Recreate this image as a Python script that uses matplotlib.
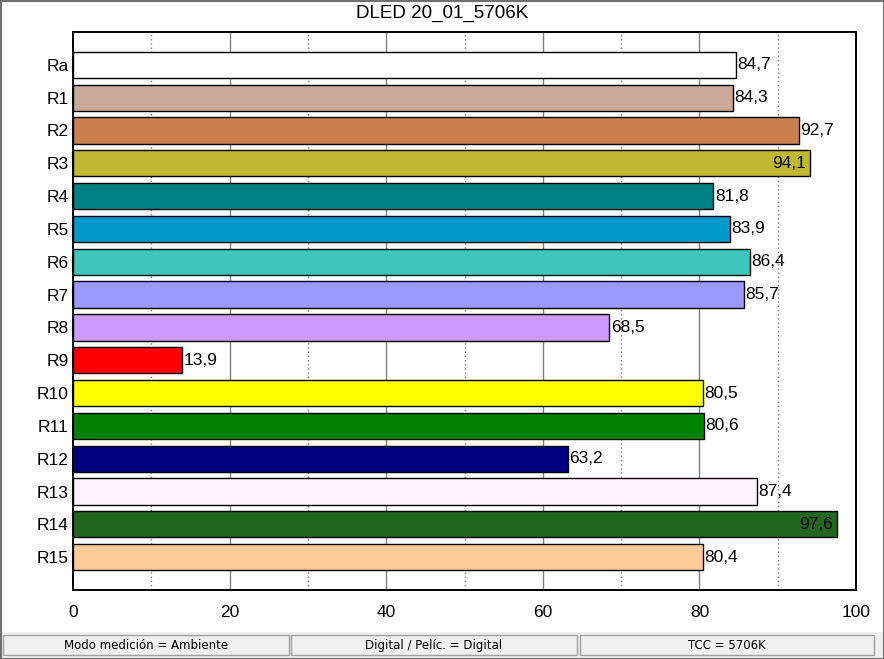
import numpy as np
import matplotlib.pyplot as plt
from matplotlib.patches import Rectangle

plt.rcParams['font.family'] = ['Liberation Sans', 'DejaVu Sans']

# data
labels = ['Ra', 'R1', 'R2', 'R3', 'R4', 'R5', 'R6', 'R7', 'R8', 'R9',
          'R10', 'R11', 'R12', 'R13', 'R14', 'R15']
values = [84.7, 84.3, 92.7, 94.1, 81.8, 83.9, 86.4, 85.7, 68.5, 13.9,
          80.5, 80.6, 63.2, 87.4, 97.6, 80.4]
colors = ['#ffffff', '#cca898', '#cc8050', '#c0b832', '#008080', '#0099cc',
          '#40c4be', '#9999ff', '#cc99ff', '#ff0000', '#ffff00', '#008000',
          '#000080', '#fff0ff', '#226622', '#ffcc99']
title = 'DLED 20_01_5706K'
status = ['Modo medición = Ambiente', 'Digital / Pelíc. = Digital', 'TCC = 5706K']

W, H = 884, 659
fs = 12.5
fig = plt.figure(figsize=(W / 100, H / 100), dpi=100)
ax = fig.add_axes([73 / W, 1 - 590 / H, (856 - 73) / W, (590 - 32) / H])

y = np.arange(len(labels))
# grid: solid at 20s, dotted at odd 10s
for gx in [20, 40, 60, 80]:
    ax.axvline(gx, color='#808080', lw=1, zorder=0)
for gx in [10, 30, 50, 70, 90]:
    ax.axvline(gx, color='#808080', lw=1, ls=(0, (1, 2)), zorder=0)

ax.barh(y, values, height=0.8, color=colors, edgecolor='black', lw=1, zorder=2)

for yi, v in zip(y, values):
    txt = f'{v:.1f}'.replace('.', ',')
    if v >= 94:
        ax.annotate(txt, (v, yi), xytext=(-3, 0), textcoords='offset points',
                    ha='right', va='center', fontsize=fs, zorder=3)
    else:
        ax.annotate(txt, (v, yi), xytext=(1, 0), textcoords='offset points',
                    ha='left', va='center', fontsize=fs, zorder=3)

ax.set_xlim(0, 100)
ax.set_ylim(16, -1)
ax.set_yticks(y)
ax.set_yticklabels(labels, fontsize=fs)
ax.set_xticks([0, 20, 40, 60, 80, 100])
ax.set_xticklabels(['0', '20', '40', '60', '80', '100'], fontsize=fs)
ax.tick_params(length=0, pad=3)
ax.tick_params(axis='x', pad=11)
for s in ax.spines.values():
    s.set_linewidth(1.4)

fig.text(0.5, 1 - 13 / H, title, ha='center', va='center', fontsize=13.5)

# status bar
fig.patches.append(Rectangle((0, 0), 1, 27 / H, transform=fig.transFigure,
                             facecolor='#f0f0f0', edgecolor='none', zorder=0))
panels = [(3, 289), (291, 577), (580, 874)]
for (x0, x1), s in zip(panels, status):
    fig.patches.append(Rectangle((x0 / W, 4 / H), (x1 - x0) / W, 20 / H,
                                 transform=fig.transFigure, facecolor='#f0f0f0',
                                 edgecolor='#a0a0a0', lw=1))
    fig.text((x0 + x1) / 2 / W, 13.5 / H, s, ha='center', va='center',
             fontsize=8.5, family=['DejaVu Sans'])

# window border
fig.patches.append(Rectangle((0.5 / W, 0.5 / H), 1 - 1 / W, 1 - 1 / H,
                             transform=fig.transFigure, facecolor='none',
                             edgecolor='#707070', lw=1.5))

fig.savefig('out.png', dpi=100)
